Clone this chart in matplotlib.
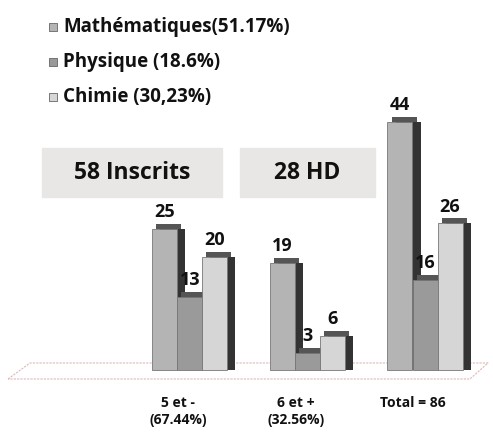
import matplotlib.pyplot as plt
import numpy as np

groups = ['5 et -\n(67.44%)', '6 et +\n(32.56%)', 'Total = 86']
series = ['Mathématiques(51.17%)', 'Physique (18.6%)', 'Chimie (30,23%)']
maths = [25, 19, 44]
physique = [13, 3, 16]
chimie = [20, 6, 26]
boxes = ['58 Inscrits', '28 HD']

colors = ['#b4b4b4', '#9a9a9a', '#d6d6d6']
side = '#333333'
font = ['Open Sans', 'DejaVu Sans']

W, H = 493, 436
fig = plt.figure(figsize=(W / 100, H / 100), dpi=100)
ax = fig.add_axes([0, 0, 1, 1])

# pixel -> data mapping: x=0 at px 190, 117.5 px per group; baseline at px 370, 5.64 px per unit
ux, uy = 117.5, 5.64
ax.set_xlim(-190 / ux, (W - 190) / ux)
ax.set_ylim(-(H - 370) / uy, 370 / uy)
ax.axis('off')

def px(x, y):
    return (x - 190) / ux, (370 - y) / uy

# floor
pts = [px(8, 379), px(30, 363), px(488, 363), px(470, 379), px(8, 379)]
ax.plot([p[0] for p in pts], [p[1] for p in pts], color='#e0b8b8', lw=0.8,
        ls=(0, (2, 1)), zorder=1)

x = np.arange(len(groups))
w = 25 / ux
dx, dy = 8 / ux, 5 / uy
for i, (vals, c) in enumerate(zip([maths, physique, chimie], colors)):
    xs = x + (i - 1) * w
    z = 3 + i * 2
    ax.bar(xs + dx, vals, width=w, color=side, zorder=z)
    ax.bar(xs + dx / 2, [dy] * 3, width=w, bottom=vals, color='#555555', zorder=z)
    ax.bar(xs, vals, width=w, color=c, edgecolor='#777777', lw=0.6, zorder=z + 1)
    for xi, v in zip(xs, vals):
        ax.text(xi, v + dy + 0.5, str(v), ha='center', va='bottom', fontsize=13,
                fontweight='bold', family=font, color='#111111', zorder=10)

for xi, g in zip(x, groups):
    ax.text(xi - 0.1, -4.6, g, ha='center', va='top', fontsize=10, fontweight='bold',
            family=font, color='#111111', linespacing=1.25)

# legend
for i, (s, c) in enumerate(zip(series, colors)):
    lx, ly = px(53, 27 + i * 35)
    ax.scatter([lx], [ly], marker='s', s=30, color=c, edgecolors='#666666', lw=0.6)
    tx, ty = px(63, 27 + i * 35)
    ax.text(tx, ty, s, ha='left', va='center', fontsize=13.5, fontweight='bold',
            family=font, color='#111111')

# header boxes
for (x0, x1), t in zip([(42, 222), (240, 375)], boxes):
    bx, by = px(x0, 197)
    ex, ey = px(x1, 148)
    ax.add_patch(plt.Rectangle((bx, by), ex - bx, ey - by, color='#e9e7e5', zorder=2))
    ax.text((bx + ex) / 2, (by + ey) / 2, t, ha='center', va='center', fontsize=16.5,
            fontweight='bold', family=font, color='#111111', zorder=3)

fig.savefig('out.png', dpi=100)
